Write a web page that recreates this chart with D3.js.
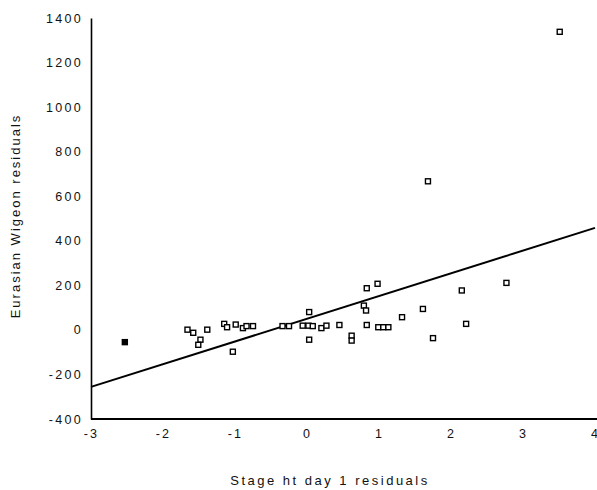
<!DOCTYPE html>
<html>
<head>
<meta charset="utf-8">
<script src="https://cdn.jsdelivr.net/npm/d3@7"></script>
<style>
  body { margin: 0; background: #fff; }
  svg { display: block; font-family: "Liberation Sans", Arial, sans-serif; }
</style>
</head>
<body>
<svg id="chart" width="597" height="490"></svg>
<script>
// residual pairs
const xVals = [-2.53, -1.66, -1.58, -1.48, -1.51, -1.385, -1.15, -1.11, -1.03, -0.99,
  -0.89, -0.84, -0.75, -0.34, -0.25, -0.06, 0.02, 0.08, 0.03, 0.03,
  0.20, 0.27, 0.45, 0.62, 0.62, 0.79, 0.82, 0.83, 0.83, 0.98,
  0.99, 1.06, 1.13, 1.32, 1.61, 1.75, 1.68, 2.15, 2.21, 2.77, 3.51];
const yVals = [-55, 1, -13, -44, -67, 1, 27, 12, -98, 24,
  8, 17, 17, 17, 17, 19, 19, 17, 80, -44,
  8, 19, 22, -26, -48, 109, 87, 22, 187, 207,
  12, 12, 12, 57, 94, -37, 667, 177, 27, 211, 1338];
const filledIdx = [0];

// fitted line: intercept + slope * x
const fitIntercept = 50;
const fitSlope = 102;

const xTicks = [-3, -2, -1, 0, 1, 2, 3, 4];
const yTicks = [-400, -200, 0, 200, 400, 600, 800, 1000, 1200, 1400];

const svg = d3.select("#chart");

const x = d3.scaleLinear().domain([-3, 4]).range([91, 595]);
const y = d3.scaleLinear().domain([-400, 1400]).range([419, 18]);

const plain = d => String(d); // keep ascii hyphen like the scan

// axes
const gx = svg.append("g")
  .attr("transform", `translate(0,${y(-400)})`)
  .call(d3.axisBottom(x).tickValues(xTicks).tickSize(0).tickPadding(10).tickFormat(plain));
const gy = svg.append("g")
  .attr("transform", `translate(${x(-3)},0)`)
  .call(d3.axisLeft(y).tickValues(yTicks).tickSize(0).tickPadding(8).tickFormat(plain));

gx.select(".domain").attr("d", `M${x(-3)},0H597`).attr("stroke", "#000").attr("stroke-width", 2);
gy.select(".domain").attr("stroke", "#000").attr("stroke-width", 1.6);
gx.selectAll("text").attr("font-size", 12.5).attr("fill", "#111").style("letter-spacing", "2.3px");
gy.selectAll("text").attr("font-size", 12.5).attr("fill", "#111").style("letter-spacing", "2.3px");

// fitted line
svg.append("line")
  .attr("x1", x(-3)).attr("y1", y(fitIntercept + fitSlope * -3))
  .attr("x2", x(4)).attr("y2", y(fitIntercept + fitSlope * 4))
  .attr("stroke", "#000")
  .attr("stroke-width", 2);

// points
const pts = xVals.map((v, i) => ({ x: v, y: yVals[i], filled: filledIdx.includes(i) }));
const s = 5;
svg.append("g").selectAll("rect")
  .data(pts)
  .enter()
  .append("rect")
  .attr("x", d => x(d.x) - s / 2)
  .attr("y", d => y(d.y) - s / 2)
  .attr("width", s)
  .attr("height", s)
  .attr("fill", d => d.filled ? "#000" : "#fff")
  .attr("stroke", "#000")
  .attr("stroke-width", 1.4);

// axis titles
svg.append("text")
  .attr("x", 330)
  .attr("y", 485)
  .attr("text-anchor", "middle")
  .attr("font-size", 13)
  .attr("fill", "#111")
  .style("letter-spacing", "2.5px")
  .text("Stage ht day 1 residuals");

svg.append("text")
  .attr("transform", "translate(20,216) rotate(-90)")
  .attr("text-anchor", "middle")
  .attr("font-size", 13)
  .attr("fill", "#111")
  .style("letter-spacing", "2px")
  .text("Eurasian Wigeon residuals");
</script>
</body>
</html>
